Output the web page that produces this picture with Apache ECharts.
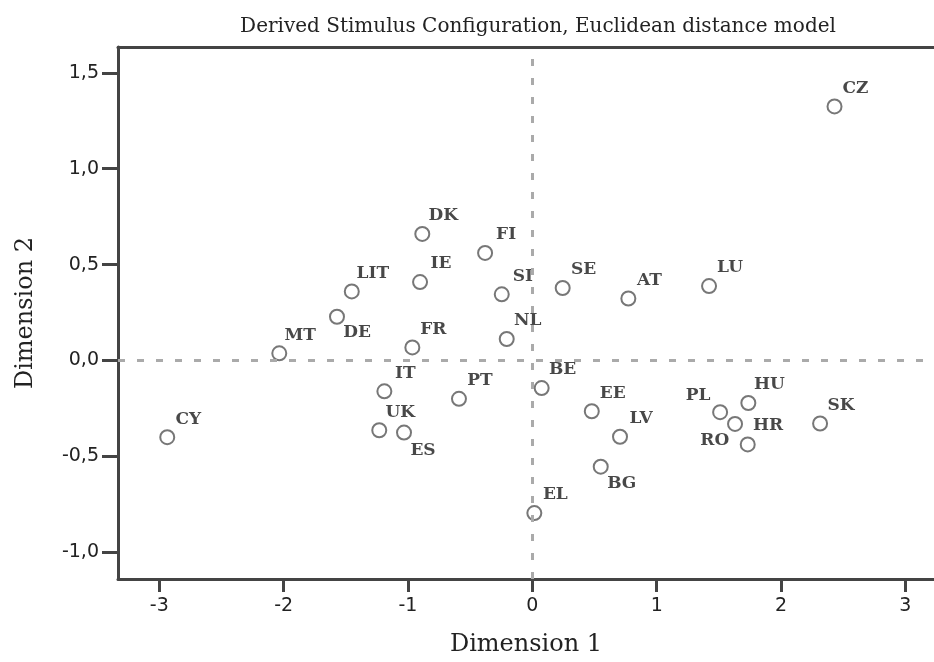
<!DOCTYPE html>
<html>

<head>
    <meta charset="utf-8" />
    <script src="https://cdn.jsdelivr.net/npm/echarts@6/dist/echarts.min.js"></script>
    <style>
        body { margin: 0; background: #fff; }
    </style>
</head>

<body>
    <div id="main" style="width: 934px;height: 662px;"></div>

    <script type="text/javascript">
        // values
        var countries = ['CZ', 'DK', 'FI', 'IE', 'LIT', 'SI', 'SE', 'AT', 'LU', 'DE', 'MT', 'FR', 'NL',
            'IT', 'PT', 'BE', 'UK', 'ES', 'CY', 'EE', 'LV', 'BG', 'EL', 'PL', 'HU', 'HR', 'RO', 'SK'];
        var dim1 = [2.43, -0.885, -0.38, -0.903, -1.452, -0.246, 0.244, 0.772, 1.421, -1.571, -2.035, -0.965, -0.206,
            -1.19, -0.59, 0.075, -1.231, -1.032, -2.936, 0.478, 0.705, 0.55, 0.016, 1.51, 1.737, 1.63, 1.732, 2.314];
        var dim2 = [1.325, 0.66, 0.561, 0.409, 0.36, 0.345, 0.378, 0.323, 0.388, 0.228, 0.037, 0.068, 0.112,
            -0.161, -0.2, -0.144, -0.364, -0.376, -0.4, -0.265, -0.398, -0.554, -0.796, -0.27, -0.222, -0.331, -0.438, -0.329];

        var xTicks = [-3, -2, -1, 0, 1, 2, 3];
        var yTicks = [-1, -0.5, 0, 0.5, 1, 1.5];

        // label placement (px from point centre); everything else sits up-right
        var labelOffset = {
            DE: [20, 16], ES: [19, 18], BG: [21, 17],
            HR: [33, 2], RO: [-33, -4], PL: [-22, -17]
        };

        var chartDom = document.getElementById('main');
        var myChart = echarts.init(chartDom);

        var points = countries.map(function (c, i) {
            return {
                name: c,
                value: [dim1[i], dim2[i]],
                label: { offset: labelOffset[c] || [21, -18] }
            };
        });

        var axisColor = '#444';
        var option = {
            animation: false,
            title: {
                text: 'Derived Stimulus Configuration, Euclidean distance model',
                left: 533,
                textAlign: 'center',
                top: 12,
                textStyle: { fontFamily: 'DejaVu Serif', fontSize: 20, fontWeight: 'normal', color: '#222' }
            },
            grid: { left: 118, top: 47, right: 0, bottom: 80 },
            xAxis: [{
                type: 'value',
                min: -3.332,
                max: 3.23,
                name: 'Dimension 1',
                nameLocation: 'middle',
                nameGap: 54,
                nameTextStyle: { fontFamily: 'DejaVu Serif', fontSize: 24, color: '#222' },
                axisLine: { onZero: false, lineStyle: { color: axisColor, width: 3 } },
                axisTick: { customValues: xTicks, length: 13, lineStyle: { color: axisColor, width: 3 } },
                axisLabel: {
                    customValues: xTicks, margin: 18,
                    fontFamily: 'DejaVu Sans', fontSize: 19, color: '#222'
                },
                splitLine: { show: false }
            }, {
                type: 'value',
                position: 'top',
                min: -3.332,
                max: 3.23,
                axisLine: { show: true, onZero: false, lineStyle: { color: axisColor, width: 3 } },
                axisTick: { show: false },
                axisLabel: { show: false },
                splitLine: { show: false }
            }],
            yAxis: {
                type: 'value',
                min: -1.14,
                max: 1.635,
                name: 'Dimension 2',
                nameLocation: 'middle',
                nameGap: 80,
                nameTextStyle: { fontFamily: 'DejaVu Serif', fontSize: 24, color: '#222' },
                axisLine: { show: true, onZero: false, lineStyle: { color: axisColor, width: 3 } },
                axisTick: { show: true, customValues: yTicks, length: 16, lineStyle: { color: axisColor, width: 3 } },
                axisLabel: {
                    customValues: yTicks, margin: 19,
                    fontFamily: 'DejaVu Sans', fontSize: 19, color: '#222',
                    formatter: function (v) { return v.toFixed(1).replace('.', ','); }
                },
                splitLine: { show: false }
            },
            series: [{
                type: 'scatter',
                xAxisIndex: 0,
                data: points,
                symbol: 'circle',
                symbolSize: 14,
                itemStyle: { color: 'rgba(255,255,255,0)', borderColor: '#555', borderWidth: 2 },
                label: {
                    show: true,
                    position: 'inside',
                    formatter: '{b}',
                    fontFamily: 'DejaVu Serif',
                    fontWeight: 'bold',
                    fontSize: 17,
                    color: '#1a1a1a',
                    textBorderWidth: 0
                },
                markLine: {
                    silent: true,
                    symbol: 'none',
                    label: { show: false },
                    lineStyle: { color: '#aaa', width: 3, type: [7, 12] },
                    data: [{ xAxis: 0 }, { yAxis: 0 }]
                }
            }]
        };

        option && myChart.setOption(option);
    </script>
</body>
</html>
